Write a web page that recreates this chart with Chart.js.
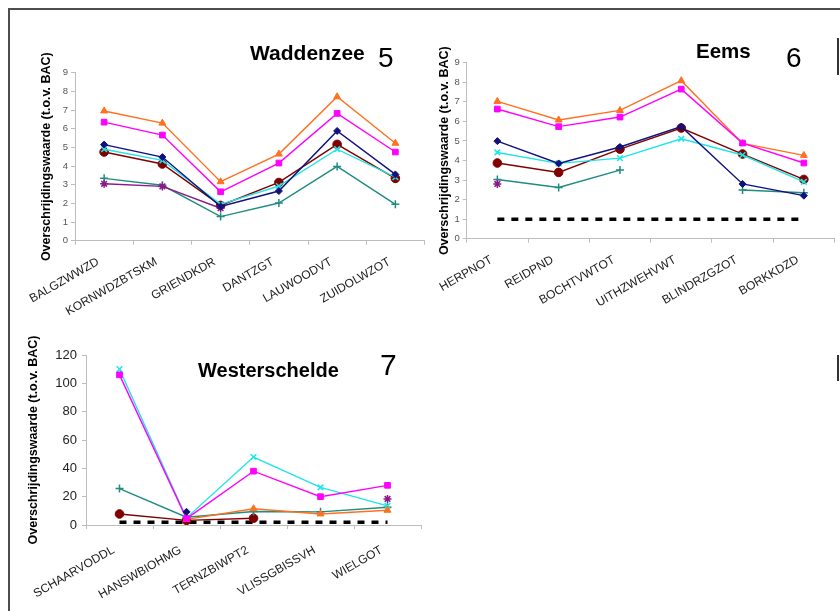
<!DOCTYPE html>
<html>
<head>
<meta charset="utf-8">
<script src="https://cdn.jsdelivr.net/npm/chart.js@4/dist/chart.umd.min.js"></script>
<style>
  html, body { margin: 0; padding: 0; background: #fff; overflow: hidden; }
  #page { position: relative; width: 840px; height: 611px; }
  #frame { position: absolute; left: 8px; top: 8px; width: 860px; height: 640px;
           border: 2px solid #4d4d4d; box-sizing: border-box; }
  canvas { position: absolute; }
  .stub { position: absolute; width: 2px; background: #333; }
</style>
</head>
<body>
<div id="page">
  <div id="frame"></div>
  <div class="stub" style="left:837px;top:38px;height:37px"></div>
  <div class="stub" style="left:837px;top:355px;height:26px"></div>
  <canvas id="wester" width="420" height="311" style="left:10px;top:300px"></canvas>
  <canvas id="wadden" width="420" height="305" style="left:10px;top:10px"></canvas>
  <canvas id="eems" width="410" height="305" style="left:430px;top:10px"></canvas>
</div>
<script>
// ---- Waddenzee (5) ----
const waddenCategories = ['BALGZWWZD', 'KORNWDZBTSKM', 'GRIENDKDR', 'DANTZGT', 'LAUWOODVT', 'ZUIDOLWZOT'];
const waddenNavy    = [5.15, 4.48, 1.83, 2.66, 5.88, 3.55];
const waddenMagenta = [6.35, 5.66, 2.62, 4.16, 6.82, 4.75];
const waddenOrange  = [6.95, 6.30, 3.16, 4.64, 7.71, 5.22];
const waddenCyan    = [4.90, 4.30, 1.95, 2.93, 4.90, 3.40];
const waddenPurple  = [3.05, 2.91, 1.74, null, null, null];
const waddenTeal    = [3.34, 2.97, 1.29, 2.02, 3.98, 1.95];
const waddenDarkRed = [4.75, 4.11, 1.89, 3.12, 5.16, 3.34];

// ---- Eems (6) ----
const eemsCategories = ['HERPNOT', 'REIDPND', 'BOCHTVWTOT', 'UITHZWEHVWT', 'BLINDRZGZOT', 'BORKKDZD'];
const eemsNavy      = [4.99, 3.85, 4.69, 5.73, 2.80, 2.20];
const eemsMagenta   = [6.63, 5.73, 6.22, 7.65, 4.89, 3.87];
const eemsOrange    = [7.02, 6.07, 6.56, 8.08, 4.87, 4.26];
const eemsCyan      = [4.41, 3.85, 4.12, 5.11, 4.28, 2.91];
const eemsPurple    = [2.80, null, null, null, null, null];
const eemsTeal      = [3.03, 2.62, 3.51, null, 2.49, 2.35];
const eemsDarkRed   = [3.87, 3.39, 4.58, 5.66, 4.33, 3.03];
const eemsLimit     = [1, 1, 1, 1, 1, 1];

// ---- Westerschelde (7) ----
const westerCategories = ['SCHAARVODDL', 'HANSWBIOHMG', 'TERNZBIWPT2', 'VLISSGBISSVH', 'WIELGOT'];
const westerNavy    = [null, 9.3, null, null, null];
const westerMagenta = [106, 4.5, 38, 20, 28];
const westerOrange  = [null, 4, 11.5, 7.8, 10.4];
const westerCyan    = [110, 5, 48, 26.5, 13.5];
const westerPurple  = [null, null, null, null, 18.4];
const westerTeal    = [25.7, 5.5, 9.5, 9.3, 12.5];
const westerDarkRed = [7.8, 3.3, 4.8, null, null];
const westerLimit   = [2, 2, 2, 2, 2];

const FONT = '"Liberation Sans", Arial, Helvetica, sans-serif';
const AXIS_TITLE = 'Overschrijdingswaarde (t.o.v. BAC)';

const STYLE = {
  navy:    { color: '#10107e', point: 'rectRot',  radius: 3.5, fill: true },
  magenta: { color: '#ff00ff', point: 'rect',     radius: 4,   fill: true },
  orange:  { color: '#ff7020', point: 'triangle', radius: 4,   fill: true },
  cyan:    { color: '#1ee6e6', point: 'crossRot', radius: 4,   fill: false },
  purple:  { color: '#8a1a8a', point: 'star',     radius: 4,   fill: false },
  teal:    { color: '#1f8c80', point: 'cross',    radius: 4,   fill: false },
  darkRed: { color: '#800000', point: 'circle',   radius: 4.3, fill: true }
};

function series(data, key) {
  const s = STYLE[key];
  return {
    data: data,
    borderColor: s.color,
    backgroundColor: s.color,
    borderWidth: 1.4,
    pointStyle: s.point,
    pointRadius: s.radius,
    pointBorderWidth: s.fill ? 1 : 1.5,
    pointBackgroundColor: s.fill ? s.color : 'rgba(0,0,0,0)',
    pointBorderColor: s.color,
    spanGaps: false,
    tension: 0
  };
}

function limitLine(data) {
  return {
    data: data,
    borderColor: '#000',
    borderWidth: 3.5,
    borderDash: [7, 7],
    pointRadius: 0,
    fill: false,
    tension: 0
  };
}

// panel heading drawn in the upper right of each chart
const panelTitle = {
  id: 'panelTitle',
  afterDraw(chart, args, o) {
    const ctx = chart.ctx;
    ctx.save();
    ctx.fillStyle = '#000';
    ctx.textAlign = 'left';
    ctx.textBaseline = 'alphabetic';
    ctx.font = 'bold ' + o.nameSize + 'px ' + FONT;
    ctx.fillText(o.name, o.nameX, o.nameY);
    ctx.font = o.numSize + 'px ' + FONT;
    ctx.fillText(o.number, o.numX, o.numY);
    ctx.restore();
  }
};

function scales(o) {
  return {
    x: {
      type: 'category',
      offset: true,
      grid: { offset: true, drawOnChartArea: false, drawTicks: true, tickLength: 4, color: '#bdbdbd' },
      border: { display: true, color: '#bdbdbd', width: 1 },
      ticks: { autoSkip: false, minRotation: 30, maxRotation: 30, color: '#1a1a1a',
               font: { family: FONT, size: 12 }, padding: o.xPad, labelOffset: -6 },
      afterFit(s) { s.height = o.xHeight; }
    },
    y: {
      min: 0, max: o.max,
      grid: { drawOnChartArea: false, drawTicks: true, tickLength: 4, color: '#bdbdbd' },
      border: { display: true, color: '#bdbdbd', width: 1 },
      ticks: { stepSize: o.step, color: o.tickColor, font: { family: FONT, size: o.tickSize }, padding: o.tickPad },
      title: { display: true, text: AXIS_TITLE, color: '#000',
               font: { family: FONT, size: 12.5, weight: 'bold', lineHeight: 1.2 },
               padding: { top: o.titlePad, bottom: 0 } },
      afterFit(s) { s.width = o.yWidth; }
    }
  };
}

function panel(id, labels, datasets, sc, pad, heading) {
  return new Chart(document.getElementById(id), {
    type: 'line',
    data: { labels: labels, datasets: datasets },
    options: {
      responsive: false,
      animation: false,
      devicePixelRatio: 1,
      layout: { padding: pad },
      plugins: { legend: { display: false }, tooltip: { enabled: false }, panelTitle: heading },
      scales: scales(sc)
    },
    plugins: [panelTitle]
  });
}

panel('wadden', waddenCategories, [
  series(waddenNavy, 'navy'),
  series(waddenMagenta, 'magenta'),
  series(waddenOrange, 'orange'),
  series(waddenCyan, 'cyan'),
  series(waddenPurple, 'purple'),
  series(waddenTeal, 'teal'),
  series(waddenDarkRed, 'darkRed')
], { max: 9, step: 1, tickColor: '#555', tickSize: 9.5, tickPad: 3, titlePad: 29.5, yWidth: 65, xHeight: 74.3, xPad: 10 },
   { top: 62.7, right: 1, bottom: 0, left: 0 },
   { name: 'Waddenzee', nameSize: 21, nameX: 240, nameY: 50, number: '5', numSize: 28, numX: 368, numY: 57 });

panel('eems', eemsCategories, [
  series(eemsNavy, 'navy'),
  series(eemsMagenta, 'magenta'),
  series(eemsOrange, 'orange'),
  series(eemsCyan, 'cyan'),
  series(eemsPurple, 'purple'),
  series(eemsTeal, 'teal'),
  series(eemsDarkRed, 'darkRed'),
  limitLine(eemsLimit)
], { max: 9, step: 1, tickColor: '#555', tickSize: 9.5, tickPad: 3, titlePad: 7.5, yWidth: 36.7, xHeight: 76.3, xPad: 10 },
   { top: 52.7, right: 5, bottom: 0, left: 0 },
   { name: 'Eems', nameSize: 20.5, nameX: 266, nameY: 48, number: '6', numSize: 28, numX: 356, numY: 57 });

panel('wester', westerCategories, [
  series(westerNavy, 'navy'),
  series(westerMagenta, 'magenta'),
  series(westerOrange, 'orange'),
  series(westerCyan, 'cyan'),
  series(westerPurple, 'purple'),
  series(westerTeal, 'teal'),
  series(westerDarkRed, 'darkRed'),
  limitLine(westerLimit)
], { max: 120, step: 20, tickColor: '#222', tickSize: 13, tickPad: 5, titlePad: 16.5, yWidth: 76, xHeight: 86, xPad: 14 },
   { top: 55, right: 9, bottom: 0, left: 0 },
   { name: 'Westerschelde', nameSize: 20, nameX: 188, nameY: 77, number: '7', numSize: 30, numX: 370, numY: 75 });
</script>
</body>
</html>
